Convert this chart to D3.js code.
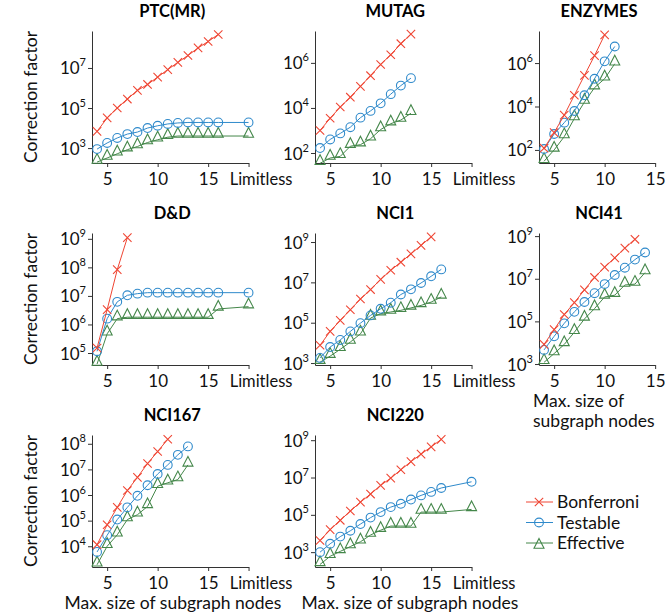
<!DOCTYPE html>
<html>
<head>
<meta charset="utf-8">
<script src="https://cdn.jsdelivr.net/npm/d3@7"></script>
<style>
  body { margin: 0; background: #fff; }
  svg { display: block; }
</style>
</head>
<body>
<script>
// ---- data ----
var panelNames = ["PTC(MR)", "MUTAG", "ENZYMES", "D&D", "NCI1", "NCI41", "NCI167", "NCI220"];
var seriesNames = ["Bonferroni", "Testable", "Effective"];
var sizeStart = 4;          // first subgraph size of every series
var limitlessPos = 19;      // where the "Limitless" category sits on the x axis
var xTickVals = [5, 10, 15];

// PTC(MR)
var ptcBonf = [6.8e3, 3.2e4, 1.0e5, 2.8e5, 7.6e5, 1.5e6, 3.5e6, 8.3e6, 1.9e7, 4.2e7, 1.0e8, 2.1e8, 4.7e8];
var ptcTest = [890, 1.8e3, 3.2e3, 5.0e3, 6.3e3, 1.0e4, 1.3e4, 1.6e4, 1.8e4, 1.9e4, 1.9e4, 1.9e4, 1.9e4];
var ptcTestLim = 1.9e4;
var ptcEff = [200, 320, 520, 830, 1.2e3, 1.9e3, 2.6e3, 3.5e3, 4.0e3, 4.0e3, 4.0e3, 4.0e3, 4.0e3];
var ptcEffLim = 4.0e3;
var ptcTicks = [1e3, 1e5, 1e7];

// MUTAG
var mutagBonf = [1.0e3, 3.5e3, 1.1e4, 3.0e4, 9.1e4, 2.7e5, 8.5e5, 2.3e6, 7.1e6, 1.9e7];
var mutagTest = [166, 400, 740, 1.4e3, 3.7e3, 7.4e3, 1.6e4, 4.1e4, 9.8e4, 2.1e5];
var mutagEff = [35, 60, 71, 200, 234, 430, 1.1e3, 2.0e3, 2.9e3, 5.8e3];
var mutagTicks = [1e2, 1e4, 1e6];

// ENZYMES
var enzBonf = [120, 630, 4.0e3, 3.3e4, 2.7e5, 2.2e6, 2.0e7];
var enzTest = [110, 540, 1.8e3, 6.2e3, 3.3e4, 1.9e5, 1.2e6, 5.8e6];
var enzEff = [30, 100, 410, 2.8e3, 1.6e4, 7.4e4, 1.9e5, 9.3e5];
var enzTicks = [1e2, 1e4, 1e6];

// D&D
var ddBonf = [1.5e5, 3.3e6, 8.3e7, 1.1e9];
var ddTest = [1.15e5, 1.6e6, 6.2e6, 1.05e7, 1.2e7, 1.3e7, 1.3e7, 1.3e7, 1.3e7, 1.3e7, 1.3e7, 1.3e7, 1.3e7];
var ddTestLim = 1.3e7;
var ddEff = [4.1e4, 4.7e5, 1.6e6, 1.8e6, 1.8e6, 1.8e6, 1.8e6, 1.8e6, 1.8e6, 1.8e6, 1.8e6, 1.8e6, 3.5e6];
var ddEffLim = 4.2e6;
var ddTicks = [1e5, 1e6, 1e7, 1e8, 1e9];

// NCI1
var nci1Bonf = [7.6e3, 3.7e4, 1.3e5, 4.4e5, 1.5e6, 4.4e6, 1.4e7, 4.0e7, 1.0e8, 2.6e8, 6.8e8, 1.8e9];
var nci1Test = [1.8e3, 6.2e3, 1.4e4, 3.7e4, 9.5e4, 2.3e5, 4.9e5, 9.8e5, 2.5e6, 4.5e6, 9.3e6, 2.0e7, 4.4e7];
var nci1Eff = [1.1e3, 2.2e3, 4.8e3, 1.1e4, 2.8e4, 1.7e5, 2.8e5, 3.4e5, 4.1e5, 5.4e5, 7.2e5, 1.05e6, 1.9e6];
var nci1Ticks = [1e3, 1e5, 1e7, 1e9];

// NCI41
var nci41Bonf = [8.3e3, 4.1e4, 2.1e5, 7.6e5, 3.0e6, 1.15e7, 3.5e7, 9.5e7, 2.75e8, 7.1e8];
var nci41Test = [4.6e3, 2.0e4, 8.1e4, 2.8e5, 8.1e5, 2.1e6, 5.6e6, 1.5e7, 3.3e7, 7.9e7, 1.7e8];
var nci41Eff = [1.2e3, 3.1e3, 8.3e3, 3.1e4, 1.3e5, 4.0e5, 1.4e6, 1.7e6, 5.1e6, 5.6e6, 1.95e7];
var nci41Ticks = [1e3, 1e5, 1e7, 1e9];

// NCI167
var nci167Bonf = [1.15e4, 6.9e4, 3.3e5, 1.5e6, 4.9e6, 1.7e7, 5.0e7, 1.5e8];
var nci167Test = [6.0e3, 2.7e4, 1.1e5, 3.3e5, 9.3e5, 2.4e6, 6.6e6, 1.5e7, 3.7e7, 7.9e7];
var nci167Eff = [1.9e3, 1.0e4, 2.8e4, 1.1e5, 1.7e5, 3.6e5, 2.2e6, 3.0e6, 4.0e6, 1.5e7];
var nci167Ticks = [1e4, 1e5, 1e6, 1e7, 1e8];

// NCI220
var nci220Bonf = [4.2e3, 1.6e4, 5.1e4, 1.6e5, 4.8e5, 1.3e6, 3.8e6, 9.3e6, 2.6e7, 7.1e7, 1.8e8, 4.4e8, 1.1e9];
var nci220Test = [1.0e3, 2.8e3, 6.8e3, 1.4e4, 3.2e4, 7.1e4, 1.4e5, 2.6e5, 3.9e5, 6.6e5, 1.1e6, 1.7e6, 2.75e6];
var nci220TestLim = 5.9e6;
var nci220Eff = [220, 600, 1.1e3, 2.0e3, 3.6e3, 8.3e3, 1.5e4, 2.5e4, 2.5e4, 2.5e4, 1.4e5, 1.4e5, 1.4e5];
var nci220EffLim = 1.95e5;
var nci220Ticks = [1e3, 1e5, 1e7, 1e9];

// ---- layout ----
var width = 665, height = 615;
var colX = [92, 315, 539];
var rowTop = [31, 233, 435];
var plotH = 132;
var unitPx = 10.1;
var font = "Lato, 'Open Sans', sans-serif";
var colors = {Bonferroni: "#ef4634", Testable: "#2f8acb", Effective: "#44874a"};

// panel table built from the arrays above; yDomain is the axis extent
var panels = [
  {name: panelNames[0], col: 0, row: 0, lim: true,  yDomain: [1.8e2, 7.0e8], ticks: ptcTicks,
   bonf: ptcBonf, test: ptcTest, testLim: ptcTestLim, eff: ptcEff, effLim: ptcEffLim},
  {name: panelNames[1], col: 1, row: 0, lim: true,  yDomain: [3.6e1, 2.6e7], ticks: mutagTicks,
   bonf: mutagBonf, test: mutagTest, eff: mutagEff},
  {name: panelNames[2], col: 2, row: 0, lim: false, yDomain: [2.5e1, 3.0e7], ticks: enzTicks,
   bonf: enzBonf, test: enzTest, eff: enzEff},
  {name: panelNames[3], col: 0, row: 1, lim: true,  yDomain: [3.8e4, 1.6e9], ticks: ddTicks,
   bonf: ddBonf, test: ddTest, testLim: ddTestLim, eff: ddEff, effLim: ddEffLim},
  {name: panelNames[4], col: 1, row: 1, lim: true,  yDomain: [8.0e2, 2.8e9], ticks: nci1Ticks,
   bonf: nci1Bonf, test: nci1Test, eff: nci1Eff},
  {name: panelNames[5], col: 2, row: 1, lim: false, yDomain: [9.0e2, 1.4e9], ticks: nci41Ticks,
   bonf: nci41Bonf, test: nci41Test, eff: nci41Eff},
  {name: panelNames[6], col: 0, row: 2, lim: true,  yDomain: [1.55e3, 2.2e8], ticks: nci167Ticks,
   bonf: nci167Bonf, test: nci167Test, eff: nci167Eff},
  {name: panelNames[7], col: 1, row: 2, lim: true,  yDomain: [1.6e2, 1.9e9], ticks: nci220Ticks,
   bonf: nci220Bonf, test: nci220Test, testLim: nci220TestLim, eff: nci220Eff, effLim: nci220EffLim}
];

var svg = d3.select("body").append("svg")
    .attr("width", width)
    .attr("height", height)
    .style("font-family", font);

function toPoints(vals, lim) {
  var pts = vals.map(function(v, i) { return [sizeStart + i, v]; });
  if (lim != null) pts.push([limitlessPos, lim]);
  return pts;
}

function drawMarker(g, kind, px, py, color) {
  if (kind == "Bonferroni") {
    var s = 4.2;
    g.append("path")
      .attr("d", "M" + (px - s) + "," + (py - s) + "L" + (px + s) + "," + (py + s) +
                 "M" + (px - s) + "," + (py + s) + "L" + (px + s) + "," + (py - s))
      .attr("stroke", color).attr("stroke-width", 1.1).attr("fill", "none");
  } else if (kind == "Testable") {
    g.append("circle")
      .attr("cx", px).attr("cy", py).attr("r", 4.4)
      .attr("stroke", color).attr("stroke-width", 1.1).attr("fill", "none");
  } else {
    g.append("path")
      .attr("d", "M" + px + "," + (py - 8.5) + "L" + (px + 5) + "," + (py + 1.2) +
                 "L" + (px - 5) + "," + (py + 1.2) + "Z")
      .attr("stroke", color).attr("stroke-width", 1.1).attr("fill", "none");
  }
}

panels.forEach(function(p) {
  var x0 = colX[p.col];
  var top = rowTop[p.row];
  var bottom = top + plotH;
  var xMax = p.lim ? limitlessPos : 15;

  var xScale = d3.scaleLinear().domain([3.5, xMax]).range([x0, x0 + (xMax - 3.5) * unitPx]);
  var yScale = d3.scaleLog().domain(p.yDomain).range([bottom, top]);

  var g = svg.append("g");

  // x axis
  var xTicks = p.lim ? xTickVals.concat([limitlessPos]) : xTickVals;
  var xAxis = g.append("g")
      .attr("transform", "translate(0," + bottom + ")")
      .call(d3.axisBottom(xScale)
        .tickValues(xTicks)
        .tickSize(4)
        .tickSizeOuter(0)
        .tickFormat(function(d) { return d == limitlessPos ? "Limitless" : d; }));
  xAxis.selectAll("text")
      .attr("font-family", font).attr("fill", "#111")
      .attr("font-size", function(d) { return d == limitlessPos ? 16.5 : 17; })
      .attr("y", 22).attr("dy", 0)
      .attr("x", function(d) { return d == limitlessPos ? 12 : 0; });

  // y axis
  var yAxis = g.append("g")
      .attr("transform", "translate(" + x0 + ",0)")
      .call(d3.axisLeft(yScale)
        .tickValues(p.ticks)
        .tickSize(4)
        .tickSizeOuter(0)
        .tickFormat(""));
  yAxis.selectAll(".tick").each(function(d) {
    var t = d3.select(this).append("text")
        .attr("x", -6).attr("y", 6)
        .attr("text-anchor", "end")
        .attr("fill", "#111")
        .attr("font-family", font);
    t.append("tspan").attr("font-size", 17).text("10");
    t.append("tspan").attr("font-size", 11).attr("dy", -8).text(Math.round(Math.log10(d)));
  });
  g.selectAll(".domain, .tick line").attr("stroke", "#333").attr("stroke-width", 1);

  // title
  g.append("text")
      .attr("x", (xScale.range()[0] + xScale.range()[1]) / 2 + 2)
      .attr("y", top - 14)
      .attr("text-anchor", "middle")
      .attr("font-size", 16.5)
      .attr("font-weight", "bold")
      .text(p.name);

  var line = d3.line()
      .x(function(d) { return xScale(d[0]); })
      .y(function(d) { return yScale(d[1]); });

  var series = [
    {key: "Effective", pts: toPoints(p.eff, p.effLim)},
    {key: "Testable", pts: toPoints(p.test, p.testLim)},
    {key: "Bonferroni", pts: toPoints(p.bonf, null)}
  ];
  series.forEach(function(s) {
    var c = colors[s.key];
    g.append("path")
      .datum(s.pts)
      .attr("d", line)
      .attr("fill", "none")
      .attr("stroke", c)
      .attr("stroke-width", 1);
    s.pts.forEach(function(d) {
      drawMarker(g, s.key, xScale(d[0]), yScale(d[1]), c);
    });
  });
});

// y labels on the left column
rowTop.forEach(function(t) {
  svg.append("text")
    .attr("transform", "translate(37," + (t + plotH / 2) + ") rotate(-90)")
    .attr("text-anchor", "middle")
    .attr("font-size", 17.5)
    .attr("fill", "#111")
    .text("Correction factor");
});

// x labels
svg.append("text").attr("x", 173).attr("y", 609)
  .attr("text-anchor", "middle").attr("font-size", 17.5).attr("fill", "#111")
  .text("Max. size of subgraph nodes");
svg.append("text").attr("x", 410).attr("y", 609)
  .attr("text-anchor", "middle").attr("font-size", 17.5).attr("fill", "#111")
  .text("Max. size of subgraph nodes");
var lbl41 = svg.append("text").attr("x", 533).attr("y", 407)
  .attr("font-size", 17.5).attr("fill", "#111");
lbl41.append("tspan").attr("x", 533).text("Max. size of");
lbl41.append("tspan").attr("x", 533).attr("dy", 20).text("subgraph nodes");

// legend
var legend = svg.append("g");
seriesNames.forEach(function(name, i) {
  var ly = 502 + i * 20.5;
  var c = colors[name];
  legend.append("line")
    .attr("x1", 526).attr("x2", 553).attr("y1", ly).attr("y2", ly)
    .attr("stroke", c).attr("stroke-width", 1);
  drawMarker(legend, name, 539, name == "Effective" ? ly + 4 : ly, c);
  legend.append("text")
    .attr("x", 557).attr("y", ly + 6)
    .attr("font-size", 17.5)
    .attr("fill", "#111")
    .text(name);
});
</script>
</body>
</html>
